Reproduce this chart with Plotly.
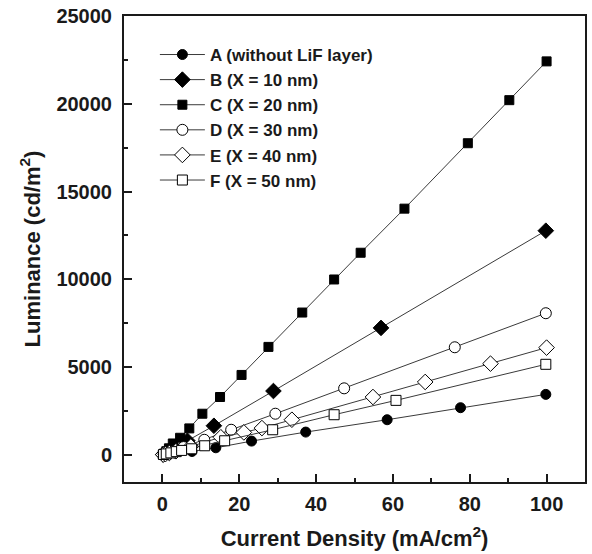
import plotly.graph_objects as go

# Series data
A_x = [0.2, 0.7, 1.6, 3.2, 7.7, 13.9, 23.2, 37.3, 58.5, 77.6, 99.8]
A_y = [5, 20, 45, 100, 190, 400, 780, 1294, 1998, 2683, 3442]

B_x = [0.2, 0.6, 1.5, 3.2, 6.5, 13.4, 28.9, 56.9, 99.8]
B_y = [15, 60, 180, 390, 800, 1655, 3634, 7230, 12768]

C_x = [0.1, 0.4, 1.0, 1.7, 2.7, 4.6, 7.0, 10.4, 15.0, 20.6, 27.6, 36.4, 44.7, 51.6, 63.0, 79.5, 90.3, 100.0]
C_y = [10, 70, 200, 370, 645, 970, 1503, 2340, 3293, 4549, 6147, 8105, 9989, 11512, 14024, 17751, 20205, 22414]

D_x = [0.2, 0.7, 1.5, 3.0, 5.5, 10.9, 17.9, 29.4, 47.3, 76.1, 99.8]
D_y = [10, 40, 100, 220, 440, 856, 1427, 2340, 3787, 6126, 8066]

E_x = [0.2, 0.8, 1.8, 3.5, 7.4, 15.2, 21.2, 25.9, 33.7, 54.8, 68.4, 85.4, 100.0]
E_y = [10, 40, 100, 200, 475, 1000, 1275, 1522, 1998, 3293, 4149, 5194, 6107]

F_x = [0.3, 1.0, 2.2, 3.6, 5.0, 7.6, 11.0, 16.2, 28.7, 44.7, 60.8, 99.8]
F_y = [15, 50, 110, 180, 250, 342, 514, 799, 1427, 2283, 3101, 5156]

names = ["A (without LiF layer)", "B (X = 10 nm)", "C (X = 20 nm)",
         "D (X = 30 nm)", "E (X = 40 nm)", "F (X = 50 nm)"]
x_ticks = [0, 20, 40, 60, 80, 100]
y_ticks = [0, 5000, 10000, 15000, 20000, 25000]

xs = [A_x, B_x, C_x, D_x, E_x, F_x]
ys = [A_y, B_y, C_y, D_y, E_y, F_y]
symbols = ["circle", "diamond", "square", "circle", "diamond", "square"]
sizes = [10, 12, 9, 11, 12, 10]
fills = ["black", "black", "black", "white", "white", "white"]

fig = go.Figure()
for n, x, y, s, sz, fc in zip(names, xs, ys, symbols, sizes, fills):
    fig.add_trace(go.Scatter(
        x=x, y=y, name=n, mode="lines+markers",
        line=dict(color="#3a3a3a", width=1),
        marker=dict(symbol=s, size=sz, color=fc,
                    line=dict(color="black", width=1)),
    ))

font_family = "Liberation Sans, Arial, sans-serif"
ink = "#1a1a1a"
fig.update_layout(
    width=592, height=554,
    margin=dict(l=124, r=5, t=16, b=72),
    paper_bgcolor="white", plot_bgcolor="white",
    font=dict(family=font_family, color=ink),
    legend=dict(
        x=0.067, y=0.955, xanchor="left", yanchor="top",
        bgcolor="rgba(0,0,0,0)",
        font=dict(size=17, family=font_family, weight="bold", color=ink),
        tracegroupgap=0, itemwidth=45,
    ),
    showlegend=True,
)
fig.update_xaxes(
    range=[-10, 110], tickvals=x_ticks, tickformat="d",
    ticks="inside", ticklen=8, tickwidth=2, tickcolor=ink,
    minor=dict(tickvals=[10, 30, 50, 70, 90], ticks="inside", ticklen=4, tickwidth=2, tickcolor=ink),
    showline=True, linewidth=2, linecolor=ink, mirror=True,
    showgrid=False, zeroline=False, ticklabelstandoff=3,
    tickfont=dict(size=20, family=font_family, weight="bold"),
    title=dict(text="Current Density (mA/cm<sup>2</sup>)", standoff=17,
               font=dict(size=22, family=font_family, weight="bold")),
)
fig.update_yaxes(
    range=[-1550, 25000], tickvals=y_ticks, tickformat="d",
    ticks="inside", ticklen=8, tickwidth=2, tickcolor=ink,
    minor=dict(tickvals=[2500, 7500, 12500, 17500, 22500], ticks="inside", ticklen=4, tickwidth=2, tickcolor=ink),
    showline=True, linewidth=2, linecolor=ink, mirror=True,
    showgrid=False, zeroline=False, ticklabelstandoff=6,
    tickfont=dict(size=20, family=font_family, weight="bold"),
    title=dict(text="Luminance (cd/m<sup>2</sup>)", standoff=10,
               font=dict(size=22, family=font_family, weight="bold")),
)

fig.write_html("out.html", config={"displayModeBar": False},
               post_script="document.body.style.margin='0';")
